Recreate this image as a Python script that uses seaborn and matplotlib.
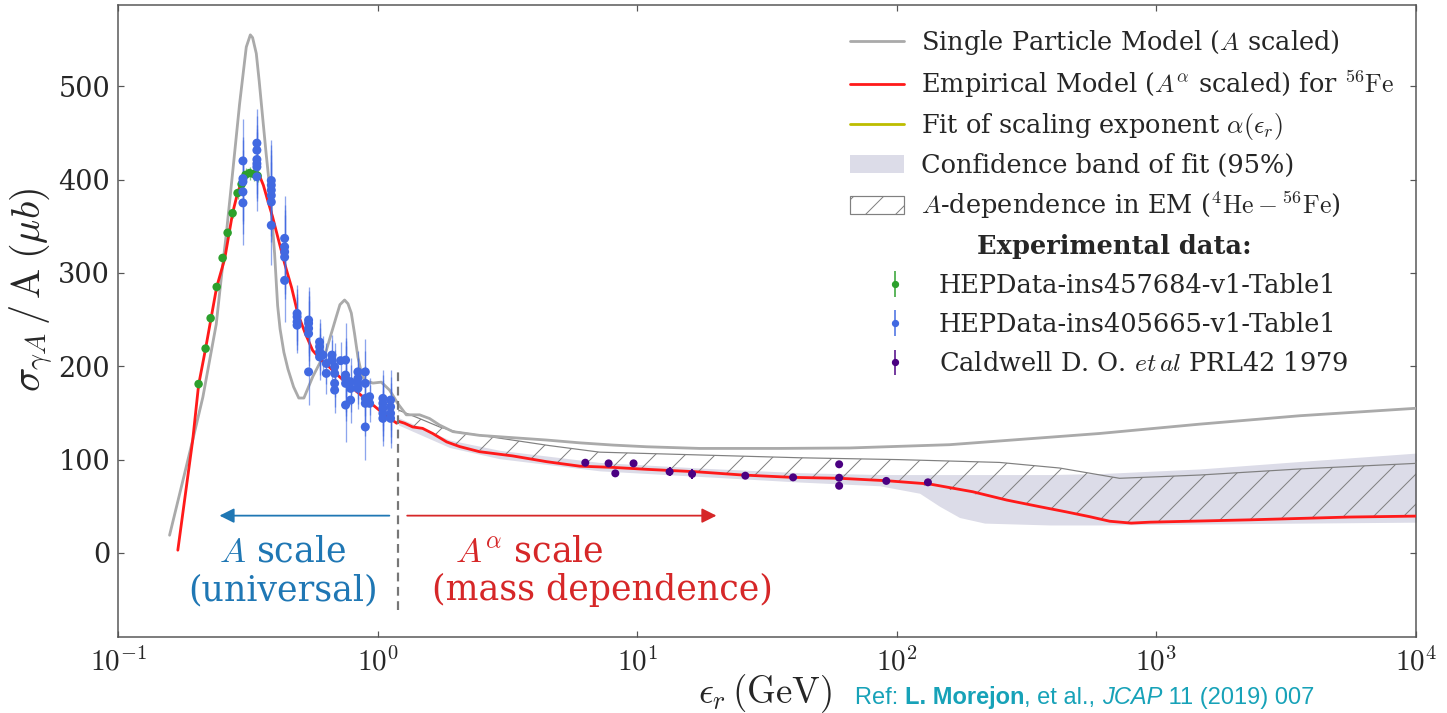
import numpy as np
import matplotlib
matplotlib.use("Agg")
import matplotlib.pyplot as plt
import seaborn as sns
from matplotlib.patches import Patch
from matplotlib.lines import Line2D

# ------------------------------------------------------------------ data
# Single Particle Model (A scaled)
spm_eps = [0.158, 0.1805, 0.194, 0.2123, 0.239, 0.250, 0.2614, 0.277, 0.294, 0.312,
           0.3234, 0.330, 0.341, 0.350, 0.3615, 0.372, 0.3837, 0.392, 0.401, 0.412,
           0.421, 0.4355, 0.4515, 0.4745, 0.497, 0.520, 0.563, 0.6344, 0.693, 0.716,
           0.746, 0.769, 0.792, 0.815, 0.8397, 0.867, 0.891, 0.959, 1.033, 1.112,
           1.197, 1.29, 1.451, 1.586, 1.733, 1.95, 2.47, 3.32, 4.47, 6.0,
           8.06, 10.84, 17.4, 35.4, 65.8, 159.7, 249, 604, 1467, 3562, 10000]
spm_val = [19, 85, 121, 167, 245, 295, 342, 410, 481, 542,
           555, 552, 535, 505, 464, 428, 392, 357, 321, 265,
           240, 215, 197, 178, 166, 166, 189, 217, 253, 266,
           271, 267, 257, 235, 210, 192, 185, 182, 183, 174.5,
           160, 148, 148, 144, 137, 130, 126, 123.5, 121, 118,
           115.6, 113.8, 112, 112, 112.5, 116, 120, 128, 138, 147, 155]

# Empirical Model (A^alpha scaled) for 56Fe
em_eps = [0.170, 0.194, 0.2044, 0.2175, 0.240, 0.2576, 0.2763, 0.289, 0.300, 0.313,
          0.322, 0.330, 0.340, 0.351, 0.363, 0.377, 0.394, 0.412, 0.4385, 0.4667,
          0.492, 0.525, 0.562, 0.605, 0.653, 0.705, 0.760, 0.830, 0.907, 0.975,
          1.045, 1.12, 1.184, 1.205, 1.27, 1.365, 1.49, 1.63, 1.845, 2.07,
          2.47, 3.31, 4.48, 6.0, 8.04, 10.9, 16.9, 25.5, 39.7, 60.3,
          91.4, 133.7, 196, 265, 355, 450, 553, 661, 800, 942,
          2286, 5546, 10000]
em_val = [3, 121, 180, 219, 285, 315, 364, 386, 398, 405,
          408, 408, 407, 404, 394, 378, 360, 339, 310, 284,
          257, 236, 217, 207, 199, 190, 182, 173, 164, 157,
          150, 144, 139, 141, 139, 135, 133.5, 128, 119, 114,
          108.5, 104, 97.8, 93, 91.7, 89.6, 87, 83.5, 81, 80,
          77.4, 73.9, 65.6, 56.7, 49.6, 44, 38.9, 34, 32, 33,
          35.5, 38.5, 39.5]

# A-dependence in EM (4He - 56Fe): lower = 56Fe, upper = 4He
adep_eps = [1.205, 1.451, 1.733, 1.998, 2.95, 4.6, 7.17, 17.4, 42.2, 102.5,
            249, 424, 721, 1467, 3562, 10000]
adep_fe = [141, 134, 123.5, 115.5, 105.8, 97.5, 92.3, 86.8, 80.8, 76.6,
           58.5, 45.4, 32.5, 33.8, 36.5, 39.5]
adep_he = [153, 144, 135, 130, 123, 115, 108, 105, 102, 100,
           97, 91, 80, 83.5, 90, 96]

# Confidence band of fit (95%)
band_eps = [1.205, 1.894, 2.95, 7.17, 17.4, 42.2, 85.9, 122.4, 146.2, 174.5,
            218, 388, 604, 1467, 3562, 10000]
band_lo = [137, 113, 101, 88, 82, 76, 72, 64, 50, 38,
           32, 30, 30, 31, 32, 33]
band_hi = [145, 121, 110, 97, 91, 86, 84, 84, 84, 84,
           84, 84, 85, 90, 98, 107]

# HEPData-ins457684-v1-Table1 (green)
green_eps = [0.2044, 0.2175, 0.2274, 0.240, 0.2529, 0.2644, 0.2763, 0.2888, 0.2993,
             0.310, 0.3212, 0.3328, 0.345]
green_val = [181, 219, 251.5, 285, 316, 343, 364, 385.5, 395, 405, 407, 406, 404]
green_err = [4, 4, 4, 4, 5, 5, 5, 6, 6, 7, 7, 7, 7]

# HEPData-ins405665-v1-Table1 (blue)
blue_eps = ([0.3029] * 5 + [0.3428] * 6 + [0.3895] * 6 + [0.4384] * 5 + [0.4897] * 4 +
            [0.5422] * 5 + [0.5977] * 4 + [0.6156] + [0.6343] * 2 + [0.6668] * 2 +
            [0.6831] * 4 + [0.7202] + [0.7527] * 5 + [0.787] * 3 + [0.8397] * 4 +
            [0.8966] * 5 + [0.9315] * 2 + [1.048] * 5 + [1.122] * 4)
blue_val = [420, 401, 397.6, 386.8, 375,
            439, 431.5, 421.5, 417, 413.6, 403,
            399, 394, 388.7, 383, 376, 351,
            337, 328, 322.6, 317, 292,
            256.6, 253, 247.6, 244,
            249.5, 246, 240.6, 235, 194,
            226, 221, 215.5, 210,
            212,
            203, 192.4,
            212, 206.6,
            199.5, 192.4, 181.7, 174.5,
            206,
            206.6, 190.6, 187, 181.7, 158.5,
            183.4, 176.3, 163.8,
            194, 187, 181.7, 176.3,
            194, 181.7, 165.6, 160.3, 135,
            167.4, 160.3,
            165.6, 160.3, 155, 149.6, 144.2,
            163.8, 156.6, 149.6, 144.2]
blue_err = ([45] * 5 + [37] * 6 + [43] * 6 + [45] * 5 + [30] * 4 +
            [35] * 5 + [25] * 4 + [20] + [22] * 2 + [22] * 2 +
            [25] * 4 + [20] + [40] * 5 + [25] * 3 + [22] * 4 +
            [35] * 5 + [20] * 2 + [30] * 5 + [32] * 4)

# Caldwell D. O. et al PRL42 1979 (purple)
purple_eps = [6.31, 7.76, 8.235, 9.68, 13.33, 16.27, 26.09, 39.87, 59.96, 59.96, 59.96, 91.1, 131.8]
purple_val = [96.7, 96, 85.3, 96, 87, 84.6, 82.8, 81, 95, 80.6, 72, 77.2, 75.7]
purple_err = [4, 4, 4, 4, 5, 5, 2, 2, 2, 2, 2, 2, 2]

xtick_vals = [0.1, 1, 10, 100, 1000, 10000]
xtick_labels = [r"$10^{-1}$", r"$10^{0}$", r"$10^{1}$", r"$10^{2}$", r"$10^{3}$", r"$10^{4}$"]
ytick_vals = [0, 100, 200, 300, 400, 500]
ytick_labels = ["0", "100", "200", "300", "400", "500"]

legend_labels = [
    r"Single Particle Model ($A$ scaled)",
    r"Empirical Model ($A^{\alpha}$ scaled) for $^{56}\mathrm{Fe}$",
    r"Fit of scaling exponent $\alpha(\epsilon_r)$",
    "Confidence band of fit (95%)",
    r"$A$-dependence in EM ($^{4}\mathrm{He}-{}^{56}\mathrm{Fe}$)",
]
data_labels = ["HEPData-ins457684-v1-Table1", "HEPData-ins405665-v1-Table1",
               r"Caldwell D. O. $et\,al$ PRL42 1979"]

# ------------------------------------------------------------------ style
DPI = 90
F = 100.0 / DPI          # font-size factor (sizes written for 100 dpi)
PX = 72.0 / DPI          # pixels -> points

sns.set_theme(style="ticks")
plt.rcParams["font.family"] = ["DejaVu Serif"]
plt.rcParams["mathtext.fontset"] = "cm"
plt.rcParams["hatch.linewidth"] = 1.0 * PX
plt.rcParams["axes.edgecolor"] = "#555555"

C_SPM = "#aaaaaa"
C_EM = "#ff1a1a"
C_FIT = "#bdbd00"
C_BAND = "#dcdce8"
C_HATCH = "#808080"
C_GREEN = "#2ca02c"
C_BLUE = "#4169e1"
C_PURPLE = "#4b0082"

fig = plt.figure(figsize=(1447 / DPI, 713 / DPI), dpi=DPI)
ax = fig.add_axes([118 / 1447, 1 - 637 / 713, 1298 / 1447, 632 / 713])

# band and hatched region
ax.fill_between(band_eps, band_lo, band_hi, color=C_BAND, lw=0, zorder=1)
ax.fill_between(adep_eps, adep_fe, adep_he, facecolor="none", edgecolor=C_HATCH,
                hatch="/", lw=0, zorder=2)
sns.lineplot(x=adep_eps, y=adep_he, ax=ax, color=C_HATCH, lw=1.2 * PX,
             estimator=None, sort=False, zorder=3)

# model curves
sns.lineplot(x=spm_eps, y=spm_val, ax=ax, color=C_SPM, lw=2.8 * PX,
             estimator=None, sort=False, zorder=4)
sns.lineplot(x=em_eps, y=em_val, ax=ax, color=C_EM, lw=2.8 * PX,
             estimator=None, sort=False, zorder=5)

# experimental data
ax.errorbar(green_eps, green_val, yerr=green_err, fmt="none", ecolor=C_GREEN,
            elinewidth=1.3 * PX, alpha=0.6, zorder=6)
ax.errorbar(blue_eps, blue_val, yerr=blue_err, fmt="none", ecolor=C_BLUE,
            elinewidth=1.3 * PX, alpha=0.6, zorder=6)
ax.errorbar(purple_eps, purple_val, yerr=purple_err, fmt="none", ecolor=C_PURPLE,
            elinewidth=2.0 * PX, zorder=6)
sns.scatterplot(x=green_eps, y=green_val, ax=ax, color=C_GREEN, s=(8.5 * PX) ** 2,
                edgecolor="none", zorder=7)
sns.scatterplot(x=blue_eps, y=blue_val, ax=ax, color=C_BLUE, s=(9 * PX) ** 2,
                edgecolor="none", zorder=7)
sns.scatterplot(x=purple_eps, y=purple_val, ax=ax, color=C_PURPLE, s=(8 * PX) ** 2,
                edgecolor="none", zorder=7)

ax.set_xscale("log")
ax.set_xlim(0.1, 10000)
ax.set_ylim(-90, 587)
ax.set_xticks(xtick_vals)
ax.set_xticklabels(xtick_labels)
ax.set_yticks(ytick_vals)
ax.set_yticklabels(ytick_labels)
ax.minorticks_off()
ax.tick_params(axis="both", which="both", direction="in", top=True, right=True,
               length=6 * PX, width=1.2 * PX, color="#555555")
ax.tick_params(axis="y", labelsize=19.5 * F, pad=8 * PX)
ax.tick_params(axis="x", labelsize=21 * F, pad=10 * PX)
for sp in ax.spines.values():
    sp.set_linewidth(1.5 * PX)

ax.set_ylabel(r"$\sigma_{\gamma A}\,/\,\mathrm{A}\;(\mu b)$", fontsize=29 * F)
ax.yaxis.set_label_coords((55 - 118) / 1298, (637 - 290) / 632)
ax.set_xlabel(r"$\epsilon_r\,(\mathrm{GeV})$", fontsize=26.5 * F)
ax.xaxis.set_label_coords((765 - 118) / 1298, (637 - 672) / 632)

# dashed separator and arrows
ax.vlines(1.2, -61, 194, colors="#777777", linestyles=(0, (4, 2.5)), lw=2.2 * PX, zorder=8)
ax.annotate("", xy=(0.246, 40), xytext=(1.11, 40),
            arrowprops=dict(arrowstyle="-|>", color="#1f77b4", lw=1.8 * PX,
                            mutation_scale=22 * F, shrinkA=0, shrinkB=0))
ax.annotate("", xy=(20.2, 40), xytext=(1.30, 40),
            arrowprops=dict(arrowstyle="-|>", color="#d62728", lw=1.8 * PX,
                            mutation_scale=22 * F, shrinkA=0, shrinkB=0))
ax.text(0.4305, 2, r"$A$ scale", color="#1f77b4", fontsize=25 * F, ha="center", va="center")
ax.text(0.4305, -40, "(universal)", color="#1f77b4", fontsize=25 * F, ha="center", va="center")
ax.text(3.85, 2, r"$A^{\alpha}$ scale", color="#d62728", fontsize=25 * F, ha="center", va="center")
ax.text(7.36, -40, "(mass dependence)", color="#d62728", fontsize=25 * F, ha="center", va="center")

# legends
h1 = [Line2D([], [], color=C_SPM, lw=2.8 * PX),
      Line2D([], [], color=C_EM, lw=2.8 * PX),
      Line2D([], [], color=C_FIT, lw=2.8 * PX),
      Patch(facecolor=C_BAND, edgecolor="none"),
      Patch(facecolor="white", edgecolor=C_HATCH, hatch="/", lw=1.2 * PX)]
leg1 = ax.legend(h1, legend_labels, loc="upper left", frameon=False,
                 bbox_to_anchor=(850 / 1447, 1 - 28 / 713), bbox_transform=fig.transFigure,
                 fontsize=18.5 * F, borderpad=0, borderaxespad=0, handlelength=2.1,
                 handletextpad=0.65, labelspacing=0.44)
ax.add_artist(leg1)

h2 = []
for c in (C_GREEN, C_BLUE, C_PURPLE):
    eb = ax.errorbar([np.nan], [np.nan], yerr=[1.0], fmt="o", color=c, ms=6 * PX,
                     elinewidth=1.5 * PX)
    h2.append(eb)
leg2 = ax.legend(h2, data_labels, loc="upper left", frameon=False,
                 title="Experimental data:",
                 title_fontproperties={"weight": "bold", "size": 18.5 * F},
                 bbox_to_anchor=(881 / 1447, 1 - 234 / 713), bbox_transform=fig.transFigure,
                 fontsize=18.5 * F, borderpad=0, borderaxespad=0, handlelength=1.1,
                 handletextpad=1.15, labelspacing=0.55)

# reference note at the bottom
REF_COLOR = "#17a2b8"
RFS = 17 * F
t1 = fig.text(855 / 1447, 4 / 713, "Ref: ", color=REF_COLOR, fontsize=RFS,
              family="Liberation Sans", va="bottom", ha="left")
t2 = ax.annotate("L. Morejon", xy=(1, 0), xycoords=t1, va="bottom", ha="left",
                 color=REF_COLOR, fontsize=RFS, family="Liberation Sans",
                 weight="bold", annotation_clip=False)
t3 = ax.annotate(", et al., ", xy=(1, 0), xycoords=t2, va="bottom", ha="left",
                 color=REF_COLOR, fontsize=RFS, family="Liberation Sans",
                 annotation_clip=False)
t4 = ax.annotate("JCAP", xy=(1, 0), xycoords=t3, va="bottom", ha="left",
                 color=REF_COLOR, fontsize=RFS, family="Liberation Sans",
                 style="italic", annotation_clip=False)
t5 = ax.annotate(" 11 (2019) 007", xy=(1, 0), xycoords=t4, va="bottom", ha="left",
                 color=REF_COLOR, fontsize=RFS, family="Liberation Sans",
                 annotation_clip=False)

fig.savefig("out.png", dpi=DPI)
